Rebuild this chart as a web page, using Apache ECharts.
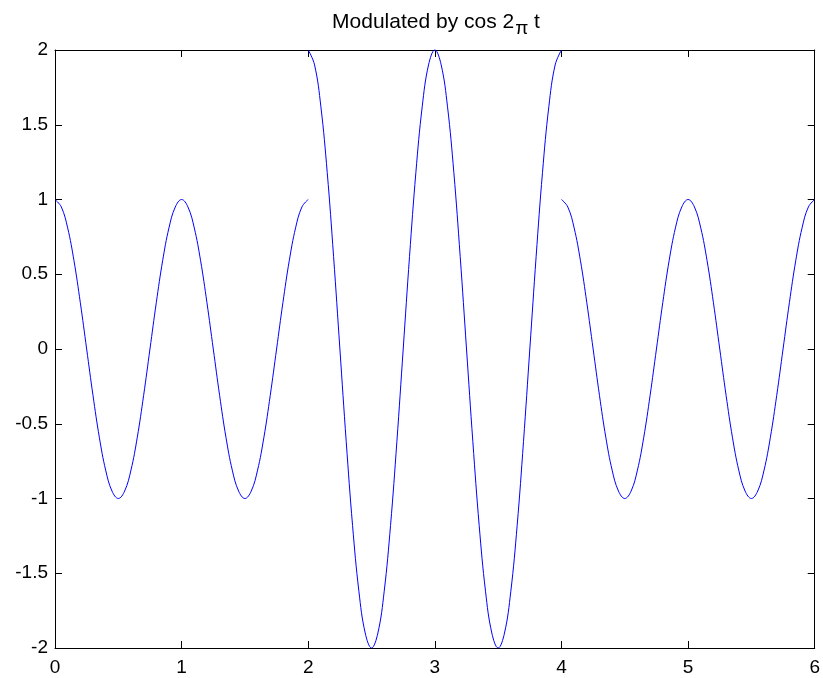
<!DOCTYPE html>
<html>
<head>
<meta charset="utf-8">
<script src="https://cdn.jsdelivr.net/npm/echarts@6/dist/echarts.min.js"></script>
<style>
html,body{margin:0;padding:0;background:#fff;}
#chart{width:823px;height:678px;}
</style>
</head>
<body>
<div id="chart"></div>
<script>
// Sample times for each segment (t)
var tSeg1 = [0,0.05,0.1,0.15,0.2,0.25,0.3,0.35,0.4,0.45,0.5,0.55,0.6,0.65,0.7,0.75,0.8,0.85,0.9,0.95,1,1.05,1.1,1.15,1.2,1.25,1.3,1.35,1.4,1.45,1.5,1.55,1.6,1.65,1.7,1.75,1.8,1.85,1.9,1.95,2];
var tSeg2 = [2,2.05,2.1,2.15,2.2,2.25,2.3,2.35,2.4,2.45,2.5,2.55,2.6,2.65,2.7,2.75,2.8,2.85,2.9,2.95,3,3.05,3.1,3.15,3.2,3.25,3.3,3.35,3.4,3.45,3.5,3.55,3.6,3.65,3.7,3.75,3.8,3.85,3.9,3.95,4];
var tSeg3 = [4,4.05,4.1,4.15,4.2,4.25,4.3,4.35,4.4,4.45,4.5,4.55,4.6,4.65,4.7,4.75,4.8,4.85,4.9,4.95,5,5.05,5.1,5.15,5.2,5.25,5.3,5.35,5.4,5.45,5.5,5.55,5.6,5.65,5.7,5.75,5.8,5.85,5.9,5.95,6];

// Values
var ySeg1 = [1.00,0.95,0.81,0.59,0.31,0.00,-0.31,-0.59,-0.81,-0.95,-1.00,-0.95,-0.81,-0.59,-0.31,0.00,0.31,0.59,0.81,0.95,1.00,0.95,0.81,0.59,0.31,0.00,-0.31,-0.59,-0.81,-0.95,-1.00,-0.95,-0.81,-0.59,-0.31,0.00,0.31,0.59,0.81,0.95,1.00];
var ySeg2 = [2.00,1.90,1.62,1.18,0.62,0.00,-0.62,-1.18,-1.62,-1.90,-2.00,-1.90,-1.62,-1.18,-0.62,0.00,0.62,1.18,1.62,1.90,2.00,1.90,1.62,1.18,0.62,0.00,-0.62,-1.18,-1.62,-1.90,-2.00,-1.90,-1.62,-1.18,-0.62,0.00,0.62,1.18,1.62,1.90,2.00];
var ySeg3 = [1.00,0.95,0.81,0.59,0.31,0.00,-0.31,-0.59,-0.81,-0.95,-1.00,-0.95,-0.81,-0.59,-0.31,0.00,0.31,0.59,0.81,0.95,1.00,0.95,0.81,0.59,0.31,0.00,-0.31,-0.59,-0.81,-0.95,-1.00,-0.95,-0.81,-0.59,-0.31,0.00,0.31,0.59,0.81,0.95,1.00];

var xTicks = [0,1,2,3,4,5,6];
var yTicks = [-2,-1.5,-1,-0.5,0,0.5,1,1.5,2];

function pairs(t, y) { return t.map(function (v, i) { return [v, y[i]]; }); }

var FONT = 'Liberation Sans, Arial, Helvetica, sans-serif';
var chart = echarts.init(document.getElementById('chart'), null, {renderer: 'canvas'});

function seriesOf(t, y) {
  return {
    type: 'line', data: pairs(t, y), showSymbol: false, symbol: 'none',
    smooth: 0.4,
    lineStyle: {color: '#0000ff', width: 1}, animation: false, clip: false
  };
}

var axisLineStyle = {color: '#000', width: 1};
chart.setOption({
  animation: false,
  backgroundColor: '#fff',
  title: {
    text: '{m|Modulated by cos 2}{pi|π}{m| t}',
    left: 431, top: 7, textAlign: 'center',
    textStyle: {
      fontFamily: FONT, fontSize: 21, fontWeight: 'normal', color: '#000',
      rich: {
        m: {fontFamily: FONT, fontSize: 21, color: '#000', verticalAlign: 'top', lineHeight: 26},
        pi: {fontFamily: FONT, fontSize: 19, color: '#000', padding: [7, 0, 0, 1], verticalAlign: 'top', lineHeight: 26}
      }
    }
  },
  grid: {left: 55, right: 8, top: 50, bottom: 30, containLabel: false},
  xAxis: [{
    type: 'value', min: 0, max: 6, interval: 1, position: 'bottom',
    axisLine: {show: true, onZero: false, lineStyle: axisLineStyle},
    axisTick: {show: true, inside: true, length: 7, lineStyle: axisLineStyle},
    axisLabel: {fontFamily: FONT, fontSize: 19, color: '#000', margin: 10,
      formatter: function (v) { return xTicks.indexOf(v) >= 0 ? String(v) : ''; }},
    splitLine: {show: false}
  }, {
    type: 'value', min: 0, max: 6, interval: 1, position: 'top',
    axisLine: {show: true, onZero: false, lineStyle: axisLineStyle},
    axisTick: {show: true, inside: true, length: 7, lineStyle: axisLineStyle},
    axisLabel: {show: false}, splitLine: {show: false}
  }],
  yAxis: [{
    type: 'value', min: -2, max: 2, interval: 0.5,
    axisLine: {show: true, onZero: false, lineStyle: axisLineStyle},
    axisTick: {show: true, inside: true, length: 7, lineStyle: axisLineStyle},
    axisLabel: {fontFamily: FONT, fontSize: 19, color: '#000', margin: 7,
      formatter: function (v) { return yTicks.indexOf(v) >= 0 ? String(v) : ''; }},
    splitLine: {show: false}
  }, {
    type: 'value', min: -2, max: 2, interval: 0.5, position: 'right',
    axisLine: {show: true, onZero: false, lineStyle: axisLineStyle},
    axisTick: {show: true, inside: true, length: 7, lineStyle: axisLineStyle},
    axisLabel: {show: false}, splitLine: {show: false}
  }],
  series: [seriesOf(tSeg1, ySeg1), seriesOf(tSeg2, ySeg2), seriesOf(tSeg3, ySeg3)]
});
</script>
</body>
</html>
